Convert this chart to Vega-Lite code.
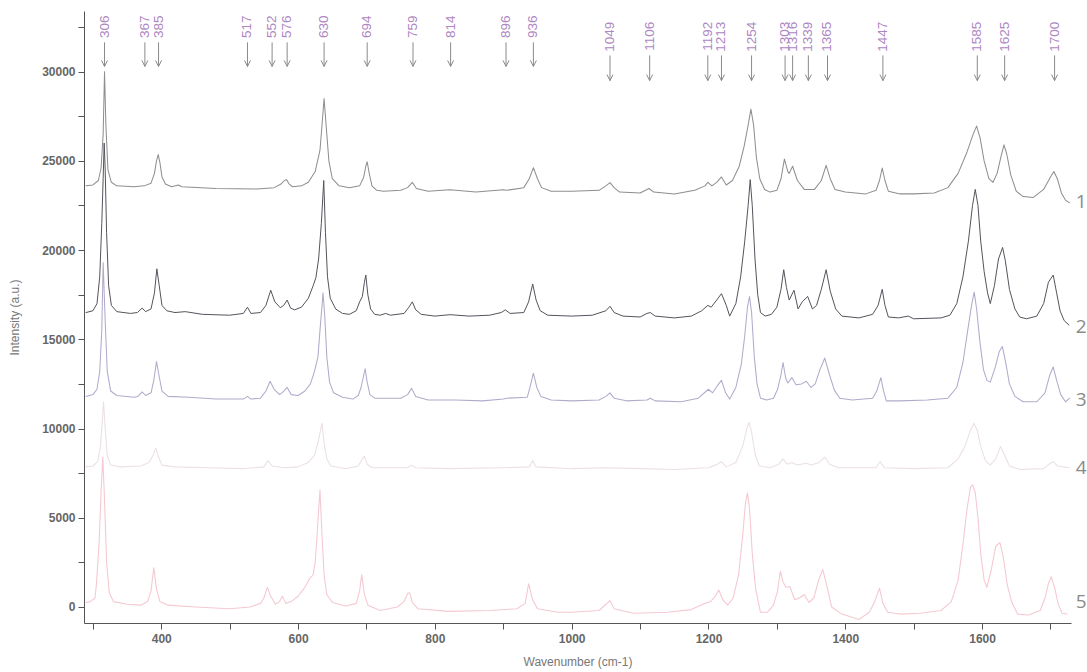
{
"$schema": "https://vega.github.io/schema/vega-lite/v6.json",
"width": 987, "height": 612,
"autosize": "none",
"padding": {"left": 84, "top": 11, "right": 16, "bottom": 49},
"background": "white",
"config": {"view": {"stroke": null}, "font": "Liberation Sans"},
"datasets": {
"spec": [
{"t":5,"x":290,"y":250},{"t":5,"x":296,"y":300},{"t":5,"x":303,"y":500},{"t":5,"x":305,"y":1200},{"t":5,"x":309,"y":3500},{"t":5,"x":312,"y":6500},{"t":5,"x":314.5,"y":8400},{"t":5,"x":317,"y":6000},{"t":5,"x":320,"y":2500},{"t":5,"x":324,"y":800},{"t":5,"x":330,"y":300},{"t":5,"x":350,"y":150},{"t":5,"x":370,"y":100},{"t":5,"x":380,"y":300},{"t":5,"x":385,"y":900},{"t":5,"x":389,"y":2200},{"t":5,"x":393,"y":1000},{"t":5,"x":398,"y":300},{"t":5,"x":410,"y":100},{"t":5,"x":450,"y":0},{"t":5,"x":500,"y":-100},{"t":5,"x":530,"y":0},{"t":5,"x":545,"y":200},{"t":5,"x":550,"y":500},{"t":5,"x":555,"y":1100},{"t":5,"x":560,"y":600},{"t":5,"x":567,"y":150},{"t":5,"x":573,"y":300},{"t":5,"x":577,"y":600},{"t":5,"x":582,"y":200},{"t":5,"x":590,"y":300},{"t":5,"x":600,"y":600},{"t":5,"x":610,"y":1100},{"t":5,"x":617,"y":1600},{"t":5,"x":622,"y":1800},{"t":5,"x":625,"y":2500},{"t":5,"x":628,"y":4200},{"t":5,"x":632,"y":6550},{"t":5,"x":635,"y":4000},{"t":5,"x":638,"y":1800},{"t":5,"x":642,"y":700},{"t":5,"x":650,"y":250},{"t":5,"x":670,"y":50},{"t":5,"x":685,"y":200},{"t":5,"x":690,"y":900},{"t":5,"x":693,"y":1800},{"t":5,"x":697,"y":700},{"t":5,"x":702,"y":100},{"t":5,"x":720,"y":-200},{"t":5,"x":745,"y":0},{"t":5,"x":755,"y":300},{"t":5,"x":760,"y":750},{"t":5,"x":763,"y":800},{"t":5,"x":767,"y":250},{"t":5,"x":775,"y":-100},{"t":5,"x":820,"y":-250},{"t":5,"x":880,"y":-200},{"t":5,"x":920,"y":-100},{"t":5,"x":932,"y":200},{"t":5,"x":937,"y":1300},{"t":5,"x":943,"y":400},{"t":5,"x":950,"y":-100},{"t":5,"x":980,"y":-300},{"t":5,"x":1000,"y":-300},{"t":5,"x":1040,"y":-200},{"t":5,"x":1050,"y":150},{"t":5,"x":1056,"y":350},{"t":5,"x":1062,"y":-100},{"t":5,"x":1090,"y":-350},{"t":5,"x":1140,"y":-300},{"t":5,"x":1175,"y":-150},{"t":5,"x":1195,"y":200},{"t":5,"x":1203,"y":300},{"t":5,"x":1210,"y":600},{"t":5,"x":1215,"y":950},{"t":5,"x":1221,"y":400},{"t":5,"x":1228,"y":100},{"t":5,"x":1236,"y":500},{"t":5,"x":1244,"y":1800},{"t":5,"x":1250,"y":4000},{"t":5,"x":1254,"y":5800},{"t":5,"x":1257,"y":6400},{"t":5,"x":1260,"y":5500},{"t":5,"x":1264,"y":3000},{"t":5,"x":1269,"y":1000},{"t":5,"x":1276,"y":-300},{"t":5,"x":1286,"y":-300},{"t":5,"x":1295,"y":100},{"t":5,"x":1301,"y":900},{"t":5,"x":1305,"y":2000},{"t":5,"x":1309,"y":1400},{"t":5,"x":1313,"y":1100},{"t":5,"x":1319,"y":1150},{"t":5,"x":1326,"y":400},{"t":5,"x":1333,"y":500},{"t":5,"x":1340,"y":700},{"t":5,"x":1347,"y":250},{"t":5,"x":1354,"y":500},{"t":5,"x":1361,"y":1500},{"t":5,"x":1367,"y":2100},{"t":5,"x":1373,"y":1200},{"t":5,"x":1380,"y":0},{"t":5,"x":1395,"y":-400},{"t":5,"x":1420,"y":-700},{"t":5,"x":1435,"y":-300},{"t":5,"x":1442,"y":200},{"t":5,"x":1450,"y":1050},{"t":5,"x":1455,"y":200},{"t":5,"x":1462,"y":-300},{"t":5,"x":1480,"y":-400},{"t":5,"x":1510,"y":-350},{"t":5,"x":1540,"y":-200},{"t":5,"x":1555,"y":300},{"t":5,"x":1565,"y":1500},{"t":5,"x":1572,"y":3500},{"t":5,"x":1578,"y":5500},{"t":5,"x":1583,"y":6700},{"t":5,"x":1586,"y":6850},{"t":5,"x":1590,"y":6400},{"t":5,"x":1594,"y":5000},{"t":5,"x":1598,"y":3000},{"t":5,"x":1603,"y":1500},{"t":5,"x":1607,"y":1100},{"t":5,"x":1613,"y":2000},{"t":5,"x":1620,"y":3400},{"t":5,"x":1626,"y":3600},{"t":5,"x":1631,"y":2800},{"t":5,"x":1637,"y":1200},{"t":5,"x":1644,"y":200},{"t":5,"x":1652,"y":-400},{"t":5,"x":1668,"y":-450},{"t":5,"x":1685,"y":-200},{"t":5,"x":1692,"y":500},{"t":5,"x":1697,"y":1300},{"t":5,"x":1701,"y":1700},{"t":5,"x":1706,"y":1100},{"t":5,"x":1711,"y":200},{"t":5,"x":1717,"y":-350},{"t":5,"x":1724,"y":-400},

{"t":4,"x":290,"y":7850},{"t":4,"x":300,"y":7900},{"t":4,"x":307,"y":8150},{"t":4,"x":311,"y":9000},{"t":4,"x":314,"y":10500},{"t":4,"x":315.5,"y":11500},{"t":4,"x":318,"y":10000},{"t":4,"x":321,"y":8500},{"t":4,"x":326,"y":7950},{"t":4,"x":340,"y":7850},{"t":4,"x":370,"y":7900},{"t":4,"x":382,"y":8100},{"t":4,"x":388,"y":8500},{"t":4,"x":392,"y":8900},{"t":4,"x":396,"y":8400},{"t":4,"x":401,"y":7950},{"t":4,"x":420,"y":7850},{"t":4,"x":470,"y":7800},{"t":4,"x":520,"y":7750},{"t":4,"x":550,"y":7850},{"t":4,"x":556,"y":8200},{"t":4,"x":562,"y":7900},{"t":4,"x":580,"y":7800},{"t":4,"x":600,"y":7850},{"t":4,"x":615,"y":8100},{"t":4,"x":624,"y":8500},{"t":4,"x":629,"y":9200},{"t":4,"x":635,"y":10300},{"t":4,"x":638,"y":9200},{"t":4,"x":642,"y":8300},{"t":4,"x":648,"y":7900},{"t":4,"x":670,"y":7750},{"t":4,"x":688,"y":7900},{"t":4,"x":694,"y":8300},{"t":4,"x":697,"y":8450},{"t":4,"x":701,"y":8000},{"t":4,"x":708,"y":7800},{"t":4,"x":760,"y":7800},{"t":4,"x":766,"y":7950},{"t":4,"x":772,"y":7800},{"t":4,"x":820,"y":7750},{"t":4,"x":900,"y":7800},{"t":4,"x":938,"y":7850},{"t":4,"x":943,"y":8200},{"t":4,"x":948,"y":7850},{"t":4,"x":1000,"y":7750},{"t":4,"x":1050,"y":7800},{"t":4,"x":1100,"y":7750},{"t":4,"x":1150,"y":7700},{"t":4,"x":1200,"y":7800},{"t":4,"x":1213,"y":8000},{"t":4,"x":1219,"y":8150},{"t":4,"x":1226,"y":7850},{"t":4,"x":1240,"y":8100},{"t":4,"x":1250,"y":9000},{"t":4,"x":1256,"y":10000},{"t":4,"x":1259.5,"y":10350},{"t":4,"x":1263,"y":9800},{"t":4,"x":1268,"y":8600},{"t":4,"x":1274,"y":7900},{"t":4,"x":1290,"y":7800},{"t":4,"x":1303,"y":8000},{"t":4,"x":1309,"y":8300},{"t":4,"x":1315,"y":8000},{"t":4,"x":1322,"y":8100},{"t":4,"x":1330,"y":7950},{"t":4,"x":1343,"y":8050},{"t":4,"x":1350,"y":7950},{"t":4,"x":1362,"y":8100},{"t":4,"x":1370,"y":8400},{"t":4,"x":1377,"y":8000},{"t":4,"x":1390,"y":7800},{"t":4,"x":1445,"y":7800},{"t":4,"x":1451,"y":8150},{"t":4,"x":1457,"y":7800},{"t":4,"x":1500,"y":7750},{"t":4,"x":1550,"y":7800},{"t":4,"x":1565,"y":8300},{"t":4,"x":1575,"y":9000},{"t":4,"x":1582,"y":9800},{"t":4,"x":1588,"y":10300},{"t":4,"x":1593,"y":9900},{"t":4,"x":1598,"y":9000},{"t":4,"x":1605,"y":8200},{"t":4,"x":1612,"y":7950},{"t":4,"x":1620,"y":8300},{"t":4,"x":1627,"y":9000},{"t":4,"x":1633,"y":8500},{"t":4,"x":1640,"y":7900},{"t":4,"x":1655,"y":7700},{"t":4,"x":1690,"y":7750},{"t":4,"x":1698,"y":8000},{"t":4,"x":1704,"y":8150},{"t":4,"x":1710,"y":7900},{"t":4,"x":1727,"y":7800},

{"t":3,"x":290,"y":11800},{"t":3,"x":300,"y":11900},{"t":3,"x":306,"y":12200},{"t":3,"x":310,"y":13200},{"t":3,"x":313,"y":15500},{"t":3,"x":315,"y":19300},{"t":3,"x":318,"y":16000},{"t":3,"x":321,"y":13200},{"t":3,"x":326,"y":12100},{"t":3,"x":335,"y":11850},{"t":3,"x":360,"y":11750},{"t":3,"x":366,"y":11800},{"t":3,"x":372,"y":12050},{"t":3,"x":377,"y":11850},{"t":3,"x":385,"y":12000},{"t":3,"x":389,"y":12700},{"t":3,"x":393,"y":13750},{"t":3,"x":397,"y":12900},{"t":3,"x":401,"y":12100},{"t":3,"x":410,"y":11800},{"t":3,"x":440,"y":11750},{"t":3,"x":480,"y":11650},{"t":3,"x":520,"y":11650},{"t":3,"x":526,"y":11800},{"t":3,"x":531,"y":11650},{"t":3,"x":545,"y":11700},{"t":3,"x":553,"y":12100},{"t":3,"x":559,"y":12650},{"t":3,"x":565,"y":12200},{"t":3,"x":573,"y":11900},{"t":3,"x":578,"y":12050},{"t":3,"x":584,"y":12300},{"t":3,"x":590,"y":11900},{"t":3,"x":600,"y":11850},{"t":3,"x":610,"y":12100},{"t":3,"x":618,"y":12500},{"t":3,"x":624,"y":13200},{"t":3,"x":629,"y":14000},{"t":3,"x":632,"y":15500},{"t":3,"x":636.5,"y":17600},{"t":3,"x":639,"y":16300},{"t":3,"x":642,"y":14000},{"t":3,"x":646,"y":12600},{"t":3,"x":652,"y":12000},{"t":3,"x":665,"y":11750},{"t":3,"x":680,"y":11650},{"t":3,"x":688,"y":11850},{"t":3,"x":692,"y":12300},{"t":3,"x":696,"y":13000},{"t":3,"x":698,"y":13350},{"t":3,"x":701,"y":12600},{"t":3,"x":705,"y":11900},{"t":3,"x":712,"y":11700},{"t":3,"x":750,"y":11700},{"t":3,"x":760,"y":11900},{"t":3,"x":766,"y":12250},{"t":3,"x":772,"y":11800},{"t":3,"x":790,"y":11600},{"t":3,"x":830,"y":11600},{"t":3,"x":870,"y":11550},{"t":3,"x":900,"y":11650},{"t":3,"x":905,"y":11700},{"t":3,"x":935,"y":11750},{"t":3,"x":939,"y":12300},{"t":3,"x":944,"y":13100},{"t":3,"x":949,"y":12300},{"t":3,"x":955,"y":11800},{"t":3,"x":970,"y":11600},{"t":3,"x":1000,"y":11550},{"t":3,"x":1040,"y":11600},{"t":3,"x":1050,"y":11800},{"t":3,"x":1056,"y":12000},{"t":3,"x":1062,"y":11700},{"t":3,"x":1080,"y":11550},{"t":3,"x":1110,"y":11600},{"t":3,"x":1115,"y":11700},{"t":3,"x":1122,"y":11550},{"t":3,"x":1160,"y":11500},{"t":3,"x":1185,"y":11700},{"t":3,"x":1200,"y":12200},{"t":3,"x":1206,"y":12000},{"t":3,"x":1213,"y":12400},{"t":3,"x":1219,"y":12700},{"t":3,"x":1225,"y":12000},{"t":3,"x":1231,"y":11650},{"t":3,"x":1240,"y":12300},{"t":3,"x":1248,"y":13600},{"t":3,"x":1253,"y":15200},{"t":3,"x":1257,"y":16800},{"t":3,"x":1260,"y":17400},{"t":3,"x":1263,"y":16500},{"t":3,"x":1267,"y":14000},{"t":3,"x":1271,"y":12500},{"t":3,"x":1276,"y":11700},{"t":3,"x":1285,"y":11600},{"t":3,"x":1295,"y":11700},{"t":3,"x":1301,"y":12200},{"t":3,"x":1306,"y":13000},{"t":3,"x":1309,"y":13700},{"t":3,"x":1313,"y":12800},{"t":3,"x":1316,"y":12550},{"t":3,"x":1322,"y":12850},{"t":3,"x":1328,"y":12450},{"t":3,"x":1336,"y":12500},{"t":3,"x":1343,"y":12650},{"t":3,"x":1350,"y":12300},{"t":3,"x":1356,"y":12500},{"t":3,"x":1363,"y":13300},{"t":3,"x":1370,"y":13950},{"t":3,"x":1377,"y":13000},{"t":3,"x":1384,"y":12150},{"t":3,"x":1392,"y":11700},{"t":3,"x":1410,"y":11600},{"t":3,"x":1440,"y":11700},{"t":3,"x":1446,"y":12100},{"t":3,"x":1452,"y":12850},{"t":3,"x":1456,"y":12100},{"t":3,"x":1460,"y":11550},{"t":3,"x":1480,"y":11550},{"t":3,"x":1520,"y":11600},{"t":3,"x":1550,"y":11700},{"t":3,"x":1563,"y":12300},{"t":3,"x":1572,"y":13700},{"t":3,"x":1579,"y":15500},{"t":3,"x":1585,"y":17000},{"t":3,"x":1588.5,"y":17650},{"t":3,"x":1592,"y":16700},{"t":3,"x":1597,"y":14800},{"t":3,"x":1602,"y":13300},{"t":3,"x":1607,"y":12700},{"t":3,"x":1612,"y":12600},{"t":3,"x":1619,"y":13400},{"t":3,"x":1625,"y":14300},{"t":3,"x":1629.5,"y":14600},{"t":3,"x":1634,"y":13800},{"t":3,"x":1640,"y":12500},{"t":3,"x":1648,"y":11800},{"t":3,"x":1660,"y":11500},{"t":3,"x":1680,"y":11500},{"t":3,"x":1692,"y":12000},{"t":3,"x":1699,"y":13000},{"t":3,"x":1704,"y":13450},{"t":3,"x":1709,"y":12700},{"t":3,"x":1715,"y":11900},{"t":3,"x":1722,"y":11500},{"t":3,"x":1728,"y":11700},

{"t":1,"x":290,"y":23600},{"t":1,"x":300,"y":23650},{"t":1,"x":308,"y":23900},{"t":1,"x":312,"y":24600},{"t":1,"x":315,"y":26500},{"t":1,"x":317,"y":30000},{"t":1,"x":319,"y":27000},{"t":1,"x":322,"y":24500},{"t":1,"x":327,"y":23800},{"t":1,"x":335,"y":23600},{"t":1,"x":360,"y":23550},{"t":1,"x":375,"y":23600},{"t":1,"x":385,"y":23750},{"t":1,"x":390,"y":24300},{"t":1,"x":393,"y":25000},{"t":1,"x":395.5,"y":25350},{"t":1,"x":398,"y":24900},{"t":1,"x":401,"y":24100},{"t":1,"x":406,"y":23700},{"t":1,"x":415,"y":23550},{"t":1,"x":425,"y":23650},{"t":1,"x":430,"y":23550},{"t":1,"x":480,"y":23450},{"t":1,"x":540,"y":23420},{"t":1,"x":565,"y":23500},{"t":1,"x":575,"y":23700},{"t":1,"x":580,"y":23900},{"t":1,"x":583,"y":23950},{"t":1,"x":587,"y":23700},{"t":1,"x":592,"y":23550},{"t":1,"x":605,"y":23600},{"t":1,"x":615,"y":23800},{"t":1,"x":625,"y":24400},{"t":1,"x":632,"y":25600},{"t":1,"x":636,"y":27500},{"t":1,"x":638,"y":28500},{"t":1,"x":641,"y":27000},{"t":1,"x":645,"y":25000},{"t":1,"x":650,"y":24000},{"t":1,"x":660,"y":23600},{"t":1,"x":675,"y":23500},{"t":1,"x":690,"y":23600},{"t":1,"x":696,"y":24100},{"t":1,"x":699,"y":24700},{"t":1,"x":701,"y":24950},{"t":1,"x":704,"y":24300},{"t":1,"x":708,"y":23600},{"t":1,"x":715,"y":23350},{"t":1,"x":725,"y":23300},{"t":1,"x":750,"y":23350},{"t":1,"x":760,"y":23500},{"t":1,"x":767,"y":23800},{"t":1,"x":773,"y":23450},{"t":1,"x":790,"y":23300},{"t":1,"x":822,"y":23380},{"t":1,"x":860,"y":23250},{"t":1,"x":900,"y":23380},{"t":1,"x":905,"y":23350},{"t":1,"x":930,"y":23500},{"t":1,"x":938,"y":24000},{"t":1,"x":944,"y":24620},{"t":1,"x":950,"y":24000},{"t":1,"x":956,"y":23500},{"t":1,"x":970,"y":23300},{"t":1,"x":1000,"y":23300},{"t":1,"x":1040,"y":23350},{"t":1,"x":1050,"y":23600},{"t":1,"x":1056,"y":23780},{"t":1,"x":1062,"y":23500},{"t":1,"x":1070,"y":23250},{"t":1,"x":1100,"y":23200},{"t":1,"x":1113,"y":23450},{"t":1,"x":1120,"y":23250},{"t":1,"x":1150,"y":23150},{"t":1,"x":1180,"y":23350},{"t":1,"x":1195,"y":23600},{"t":1,"x":1199,"y":23800},{"t":1,"x":1205,"y":23600},{"t":1,"x":1212,"y":23800},{"t":1,"x":1219,"y":24100},{"t":1,"x":1226,"y":23650},{"t":1,"x":1235,"y":23900},{"t":1,"x":1245,"y":24700},{"t":1,"x":1252,"y":25800},{"t":1,"x":1258,"y":27000},{"t":1,"x":1262,"y":27900},{"t":1,"x":1266,"y":27000},{"t":1,"x":1270,"y":25200},{"t":1,"x":1275,"y":24000},{"t":1,"x":1282,"y":23400},{"t":1,"x":1290,"y":23250},{"t":1,"x":1300,"y":23350},{"t":1,"x":1306,"y":24000},{"t":1,"x":1311,"y":25100},{"t":1,"x":1316,"y":24400},{"t":1,"x":1318,"y":24300},{"t":1,"x":1323,"y":24700},{"t":1,"x":1330,"y":23900},{"t":1,"x":1340,"y":23400},{"t":1,"x":1355,"y":23400},{"t":1,"x":1365,"y":23900},{"t":1,"x":1372,"y":24750},{"t":1,"x":1378,"y":24000},{"t":1,"x":1385,"y":23400},{"t":1,"x":1400,"y":23250},{"t":1,"x":1430,"y":23150},{"t":1,"x":1445,"y":23350},{"t":1,"x":1450,"y":23900},{"t":1,"x":1454,"y":24600},{"t":1,"x":1458,"y":23900},{"t":1,"x":1463,"y":23300},{"t":1,"x":1480,"y":23150},{"t":1,"x":1500,"y":23150},{"t":1,"x":1530,"y":23200},{"t":1,"x":1550,"y":23500},{"t":1,"x":1565,"y":24300},{"t":1,"x":1578,"y":25500},{"t":1,"x":1587,"y":26500},{"t":1,"x":1592,"y":26950},{"t":1,"x":1597,"y":26300},{"t":1,"x":1603,"y":25000},{"t":1,"x":1610,"y":24000},{"t":1,"x":1616,"y":23800},{"t":1,"x":1622,"y":24300},{"t":1,"x":1628,"y":25300},{"t":1,"x":1632,"y":25900},{"t":1,"x":1636,"y":25400},{"t":1,"x":1642,"y":24200},{"t":1,"x":1650,"y":23300},{"t":1,"x":1660,"y":23000},{"t":1,"x":1675,"y":22950},{"t":1,"x":1690,"y":23400},{"t":1,"x":1700,"y":24100},{"t":1,"x":1705,"y":24400},{"t":1,"x":1710,"y":24000},{"t":1,"x":1716,"y":23200},{"t":1,"x":1722,"y":22800},{"t":1,"x":1728,"y":22650},

{"t":2,"x":290,"y":16500},{"t":2,"x":300,"y":16600},{"t":2,"x":306,"y":17000},{"t":2,"x":310,"y":18500},{"t":2,"x":313,"y":21500},{"t":2,"x":315,"y":24000},{"t":2,"x":316.5,"y":26000},{"t":2,"x":318,"y":24500},{"t":2,"x":320,"y":21000},{"t":2,"x":323,"y":18000},{"t":2,"x":327,"y":16900},{"t":2,"x":335,"y":16550},{"t":2,"x":355,"y":16450},{"t":2,"x":365,"y":16500},{"t":2,"x":372,"y":16750},{"t":2,"x":377,"y":16550},{"t":2,"x":385,"y":16700},{"t":2,"x":390,"y":17600},{"t":2,"x":393.5,"y":18950},{"t":2,"x":397,"y":18000},{"t":2,"x":401,"y":16900},{"t":2,"x":408,"y":16600},{"t":2,"x":420,"y":16500},{"t":2,"x":435,"y":16550},{"t":2,"x":460,"y":16400},{"t":2,"x":500,"y":16350},{"t":2,"x":520,"y":16450},{"t":2,"x":526,"y":16800},{"t":2,"x":531,"y":16450},{"t":2,"x":545,"y":16500},{"t":2,"x":553,"y":16900},{"t":2,"x":560,"y":17750},{"t":2,"x":566,"y":17100},{"t":2,"x":574,"y":16770},{"t":2,"x":579,"y":16900},{"t":2,"x":584,"y":17200},{"t":2,"x":589,"y":16750},{"t":2,"x":595,"y":16650},{"t":2,"x":605,"y":16800},{"t":2,"x":615,"y":17300},{"t":2,"x":622,"y":18000},{"t":2,"x":626,"y":18450},{"t":2,"x":630,"y":19500},{"t":2,"x":634,"y":21500},{"t":2,"x":637.5,"y":23900},{"t":2,"x":640,"y":21000},{"t":2,"x":643,"y":18500},{"t":2,"x":647,"y":17300},{"t":2,"x":655,"y":16700},{"t":2,"x":665,"y":16450},{"t":2,"x":675,"y":16400},{"t":2,"x":685,"y":16600},{"t":2,"x":690,"y":17100},{"t":2,"x":694,"y":17400},{"t":2,"x":697,"y":18200},{"t":2,"x":699,"y":18600},{"t":2,"x":702,"y":17500},{"t":2,"x":706,"y":16700},{"t":2,"x":712,"y":16400},{"t":2,"x":720,"y":16350},{"t":2,"x":728,"y":16450},{"t":2,"x":735,"y":16350},{"t":2,"x":755,"y":16450},{"t":2,"x":762,"y":16800},{"t":2,"x":767,"y":17100},{"t":2,"x":772,"y":16650},{"t":2,"x":780,"y":16400},{"t":2,"x":800,"y":16300},{"t":2,"x":822,"y":16380},{"t":2,"x":850,"y":16300},{"t":2,"x":880,"y":16350},{"t":2,"x":897,"y":16500},{"t":2,"x":903,"y":16650},{"t":2,"x":910,"y":16450},{"t":2,"x":930,"y":16500},{"t":2,"x":937,"y":17100},{"t":2,"x":943,"y":18100},{"t":2,"x":948,"y":17200},{"t":2,"x":954,"y":16600},{"t":2,"x":965,"y":16350},{"t":2,"x":1000,"y":16300},{"t":2,"x":1030,"y":16350},{"t":2,"x":1050,"y":16600},{"t":2,"x":1056,"y":16850},{"t":2,"x":1062,"y":16500},{"t":2,"x":1075,"y":16300},{"t":2,"x":1100,"y":16250},{"t":2,"x":1110,"y":16450},{"t":2,"x":1115,"y":16500},{"t":2,"x":1122,"y":16300},{"t":2,"x":1150,"y":16200},{"t":2,"x":1175,"y":16300},{"t":2,"x":1190,"y":16600},{"t":2,"x":1199,"y":16900},{"t":2,"x":1204,"y":16800},{"t":2,"x":1212,"y":17200},{"t":2,"x":1219,"y":17560},{"t":2,"x":1226,"y":16900},{"t":2,"x":1231,"y":16300},{"t":2,"x":1240,"y":17000},{"t":2,"x":1247,"y":18500},{"t":2,"x":1253,"y":20500},{"t":2,"x":1258,"y":22500},{"t":2,"x":1261,"y":23950},{"t":2,"x":1264,"y":22500},{"t":2,"x":1268,"y":19500},{"t":2,"x":1272,"y":17500},{"t":2,"x":1276,"y":16500},{"t":2,"x":1283,"y":16300},{"t":2,"x":1292,"y":16400},{"t":2,"x":1300,"y":16800},{"t":2,"x":1306,"y":17800},{"t":2,"x":1310,"y":18900},{"t":2,"x":1314,"y":17900},{"t":2,"x":1318,"y":17200},{"t":2,"x":1325,"y":17750},{"t":2,"x":1331,"y":16700},{"t":2,"x":1337,"y":17100},{"t":2,"x":1345,"y":17400},{"t":2,"x":1352,"y":16700},{"t":2,"x":1358,"y":16900},{"t":2,"x":1365,"y":17800},{"t":2,"x":1372,"y":18900},{"t":2,"x":1378,"y":17700},{"t":2,"x":1386,"y":16700},{"t":2,"x":1395,"y":16300},{"t":2,"x":1420,"y":16200},{"t":2,"x":1440,"y":16400},{"t":2,"x":1448,"y":16900},{"t":2,"x":1454,"y":17800},{"t":2,"x":1458,"y":16900},{"t":2,"x":1463,"y":16250},{"t":2,"x":1478,"y":16200},{"t":2,"x":1492,"y":16300},{"t":2,"x":1500,"y":16150},{"t":2,"x":1540,"y":16200},{"t":2,"x":1553,"y":16350},{"t":2,"x":1563,"y":17000},{"t":2,"x":1572,"y":18500},{"t":2,"x":1580,"y":20500},{"t":2,"x":1586,"y":22500},{"t":2,"x":1590,"y":23400},{"t":2,"x":1594,"y":22500},{"t":2,"x":1598,"y":20500},{"t":2,"x":1603,"y":18800},{"t":2,"x":1608,"y":17600},{"t":2,"x":1612,"y":17000},{"t":2,"x":1618,"y":18000},{"t":2,"x":1624,"y":19500},{"t":2,"x":1630,"y":20150},{"t":2,"x":1634,"y":19400},{"t":2,"x":1640,"y":17800},{"t":2,"x":1648,"y":16700},{"t":2,"x":1655,"y":16250},{"t":2,"x":1665,"y":16150},{"t":2,"x":1680,"y":16300},{"t":2,"x":1690,"y":17000},{"t":2,"x":1697,"y":18200},{"t":2,"x":1704,"y":18600},{"t":2,"x":1709,"y":17600},{"t":2,"x":1714,"y":16600},{"t":2,"x":1720,"y":16050},{"t":2,"x":1727,"y":15800}
],
"peaks": [
{"label":"306","x":317},{"label":"367","x":376},{"label":"385","x":396},{"label":"517","x":526},{"label":"552","x":562},{"label":"576","x":584},{"label":"630","x":638},{"label":"694","x":701},{"label":"759","x":768},{"label":"814","x":823},{"label":"896","x":904},{"label":"936","x":944},{"label":"1049","x":1056},{"label":"1106","x":1114},{"label":"1192","x":1199},{"label":"1213","x":1219},{"label":"1254","x":1263},{"label":"1303","x":1312},{"label":"1316","x":1323},{"label":"1339","x":1346},{"label":"1365","x":1374},{"label":"1447","x":1455},{"label":"1585","x":1593},{"label":"1625","x":1633},{"label":"1700","x":1706}
],
"names": [
{"n":"1","x":1745,"y":22720},{"n":"2","x":1745,"y":15700},{"n":"3","x":1745,"y":11600},{"n":"4","x":1745,"y":7800},{"n":"5","x":1745,"y":280}
]
},
"layer": [
{
"data": {"name": "spec"},
"mark": {"type": "line", "strokeJoin": "round", "strokeCap": "round"},
"encoding": {
"x": {"field": "x", "type": "quantitative", "title": "Wavenumber (cm-1)",
 "scale": {"domain": [287, 1730], "nice": false, "zero": false},
 "axis": {"values": [300,400,500,600,700,800,900,1000,1100,1200,1300,1400,1500,1600,1700], "format": "d",
  "labelExpr": "datum.value % 200 === 0 ? datum.label : ''",
  "grid": false, "tickSize": 6, "labelPadding": 4, "domainColor": "#555", "tickColor": "#555",
  "labelColor": "#666", "labelFontSize": 12, "labelFontWeight": "bold", "labelFont": "Liberation Sans",
  "titleFontSize": 12, "titleFontWeight": "normal", "titleColor": "#777", "titlePadding": 12, "labelFlush": false}},
"y": {"field": "y", "type": "quantitative", "title": "Intensity (a.u.)",
 "scale": {"domain": [-900, 33400], "nice": false, "zero": false},
 "axis": {"values": [0,2500,5000,7500,10000,12500,15000,17500,20000,22500,25000,27500,30000,32500], "format": "d",
  "labelExpr": "datum.value % 5000 === 0 ? datum.label : ''",
  "grid": false, "tickSize": 6, "labelPadding": 3, "domainColor": "#555", "tickColor": "#555",
  "labelColor": "#666", "labelFontSize": 12, "labelFontWeight": "bold", "labelFont": "Liberation Sans",
  "titleFontSize": 12, "titleFontWeight": "normal", "titleColor": "#777", "titlePadding": 20, "labelFlush": false}},
"color": {"field": "t", "type": "nominal", "legend": null,
 "scale": {"domain": [5,4,3,1,2], "range": ["#f5c9d1", "#ebe0e5", "#b2aacb", "#8e8e8e", "#57525c"]}},
"strokeWidth": {"field": "t", "type": "nominal", "legend": null,
 "scale": {"domain": [5,4,3,1,2], "range": [1.1, 1, 1.1, 1.3, 1.6]}}
}
},
{
"data": {"name": "peaks"},
"transform": [{"filter": "length(datum.label) == 3"}],
"mark": {"type": "text", "angle": 270, "align": "right", "baseline": "middle", "fontSize": 13.5, "font": "Liberation Sans", "color": "#ad86c2"},
"encoding": {"x": {"field": "x", "type": "quantitative"}, "y": {"datum": 33155}, "text": {"field": "label"}}
},
{
"data": {"name": "peaks"},
"transform": [{"filter": "length(datum.label) == 4"}],
"mark": {"type": "text", "angle": 270, "align": "right", "baseline": "middle", "fontSize": 13.5, "font": "Liberation Sans", "color": "#ad86c2"},
"encoding": {"x": {"field": "x", "type": "quantitative"}, "y": {"datum": 32800}, "text": {"field": "label"}}
},
{
"data": {"name": "peaks"},
"transform": [{"filter": "length(datum.label) == 3"}],
"mark": {"type": "rule", "color": "#8a8a8a", "strokeWidth": 1},
"encoding": {"x": {"field": "x", "type": "quantitative"}, "y": {"datum": 31640}, "y2": {"datum": 30294}}
},
{
"data": {"name": "peaks"},
"transform": [{"filter": "length(datum.label) == 4"}],
"mark": {"type": "rule", "color": "#8a8a8a", "strokeWidth": 1},
"encoding": {"x": {"field": "x", "type": "quantitative"}, "y": {"datum": 30911}, "y2": {"datum": 29500}}
},
{
"data": {"name": "peaks"},
"transform": [{"filter": "length(datum.label) == 3"}],
"mark": {"type": "point", "shape": "M-1.5,-3L0,0L1.5,-3", "size": 16, "filled": false, "stroke": "#8a8a8a", "strokeWidth": 1, "opacity": 1},
"encoding": {"x": {"field": "x", "type": "quantitative"}, "y": {"datum": 30294}}
},
{
"data": {"name": "peaks"},
"transform": [{"filter": "length(datum.label) == 4"}],
"mark": {"type": "point", "shape": "M-1.5,-3L0,0L1.5,-3", "size": 16, "filled": false, "stroke": "#8a8a8a", "strokeWidth": 1, "opacity": 1},
"encoding": {"x": {"field": "x", "type": "quantitative"}, "y": {"datum": 29500}}
},
{
"data": {"name": "names"},
"mark": {"type": "text", "align": "center", "baseline": "middle", "fontSize": 19, "font": "Open Sans", "color": "#8a8a8a"},
"encoding": {"x": {"field": "x", "type": "quantitative"}, "y": {"field": "y", "type": "quantitative"}, "text": {"field": "n"}}
}
]
}
